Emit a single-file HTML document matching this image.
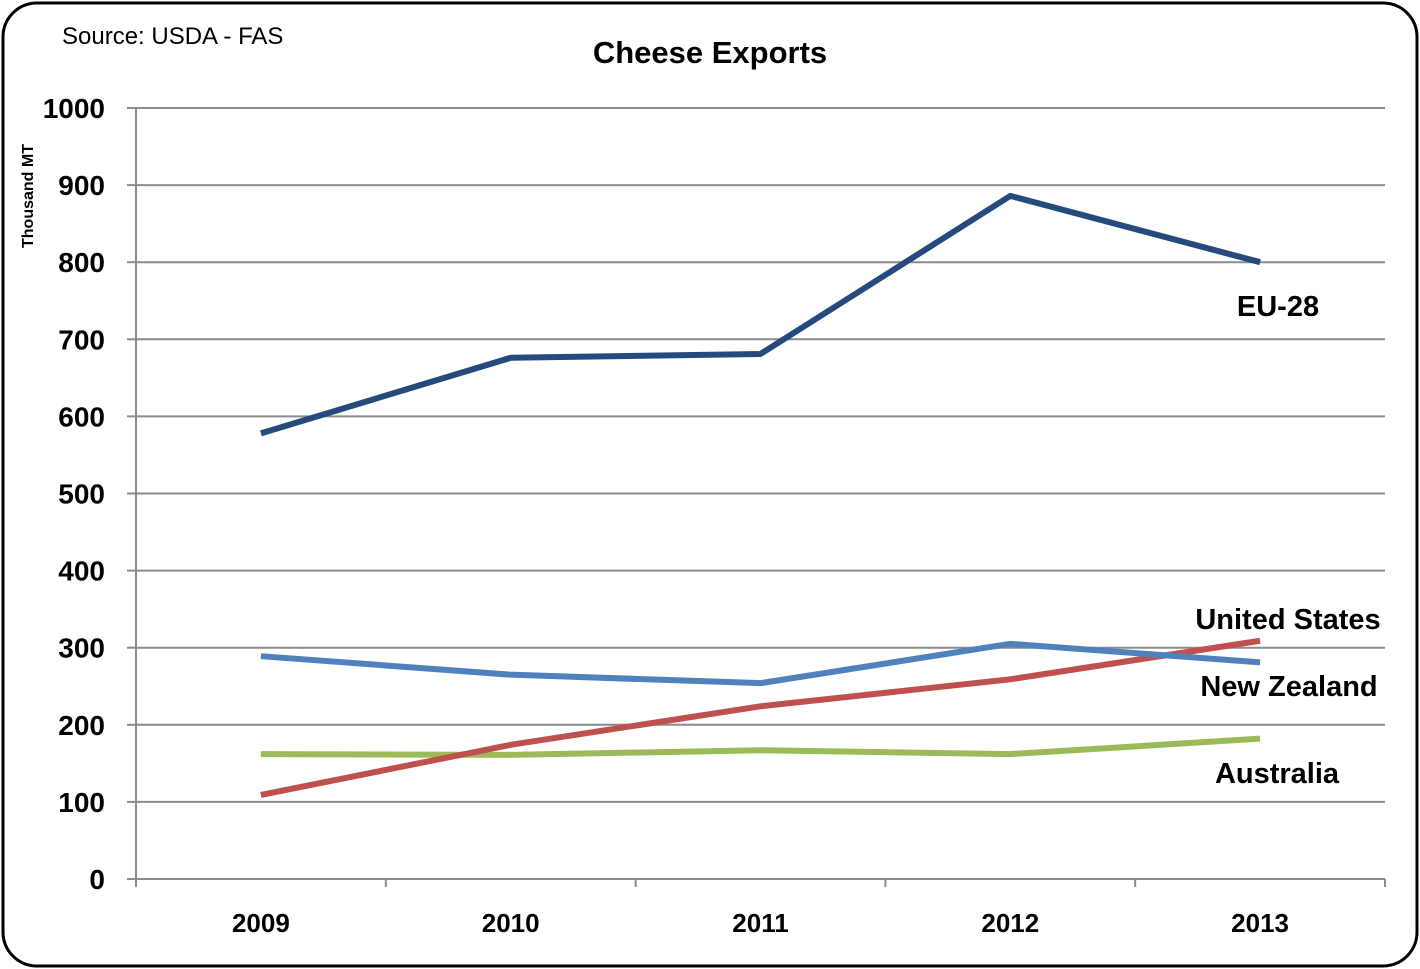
<!DOCTYPE html>
<html><head><meta charset="utf-8"><style>
body{margin:0;background:#fff;}
svg{display:block;font-family:"Liberation Sans",sans-serif;}
</style></head><body>
<svg width="1420" height="969">
<rect x="3" y="3" width="1414" height="963" rx="34" fill="#fff" stroke="#000" stroke-width="3"/>
<text x="62" y="44" font-size="24">Source: USDA - FAS</text>
<text x="710" y="63" font-size="31" font-weight="bold" text-anchor="middle">Cheese Exports</text>
<text transform="translate(33,196) rotate(-90)" font-size="16" font-weight="bold" text-anchor="middle">Thousand MT</text>
<g id="grid"></g><g id="axes"></g><g id="series"></g><g id="labels"></g>
</svg>
<script>
const categories=["2009","2010","2011","2012","2013"];
const yTicks=[0,100,200,300,400,500,600,700,800,900,1000];
const seriesNames=["EU-28","New Zealand","United States","Australia"];
const euValues=[578,676,681,886,800];
const nzValues=[289,265,254,305,281];
const usValues=[109,174,224,259,309];
const auValues=[162,161,167,162,182];
const NS="http://www.w3.org/2000/svg";
const X0=136,X1=1385,Y0=879,Y1=108;
const band=(X1-X0)/categories.length;
const x=i=>X0+band*(i+0.5);
const y=v=>Y0-(v/1000)*(Y0-Y1);
function mk(tag,attrs,parent){const e=document.createElementNS(NS,tag);for(const k in attrs)e.setAttribute(k,attrs[k]);document.getElementById(parent).appendChild(e);return e;}
yTicks.forEach(t=>{
 if(t>0){const g=mk("line",{x1:X0,x2:X1,y1:y(t),y2:y(t),stroke:"#8c8c8c","stroke-width":2},"grid");
 
 }
 const tk=mk("line",{x1:X0-9,x2:X0,y1:y(t),y2:y(t),stroke:"#8c8c8c","stroke-width":2},"axes");
 
 
 const lb=mk("text",{x:105,y:y(t)+10,"font-size":28,"font-weight":"bold","text-anchor":"end"},"axes");
 lb.textContent=t;
 
 
});
const ya=mk("line",{x1:X0,x2:X0,y1:Y1,y2:Y0,stroke:"#8c8c8c","stroke-width":2},"axes");


const xa=mk("line",{x1:X0,x2:X1,y1:Y0,y2:Y0,stroke:"#8c8c8c","stroke-width":2},"axes");


for(let i=0;i<=categories.length;i++){
 const tk=mk("line",{x1:X0+band*i,x2:X0+band*i,y1:Y0,y2:Y0+8,stroke:"#8c8c8c","stroke-width":2},"axes");
 
 
}
categories.forEach((c,i)=>{
 const lb=mk("text",{x:x(i),y:932,"font-size":26,"font-weight":"bold","text-anchor":"middle"},"axes");
 lb.textContent=c;
 
 
});
const allSeries=[euValues,nzValues,usValues,auValues];
const colors=["#254a7e","#4f81bd","#c0504d","#9bbb59"];
const order=[3,2,1,0];
order.forEach(s=>{
 const p=mk("polyline",{points:allSeries[s].map((v,i)=>x(i)+","+y(v)).join(" "),fill:"none",stroke:colors[s],"stroke-width":6,"stroke-linejoin":"round"},"series");
 
 
});
const labelPos=[[1278,316],[1289,696],[1288,629],[1277,783]];
seriesNames.forEach((n,s)=>{
 const t=mk("text",{x:labelPos[s][0],y:labelPos[s][1],"font-size":29,"font-weight":"bold","text-anchor":"middle"},"labels");
 t.textContent=n;
 
 
});
</script>
</body></html>
